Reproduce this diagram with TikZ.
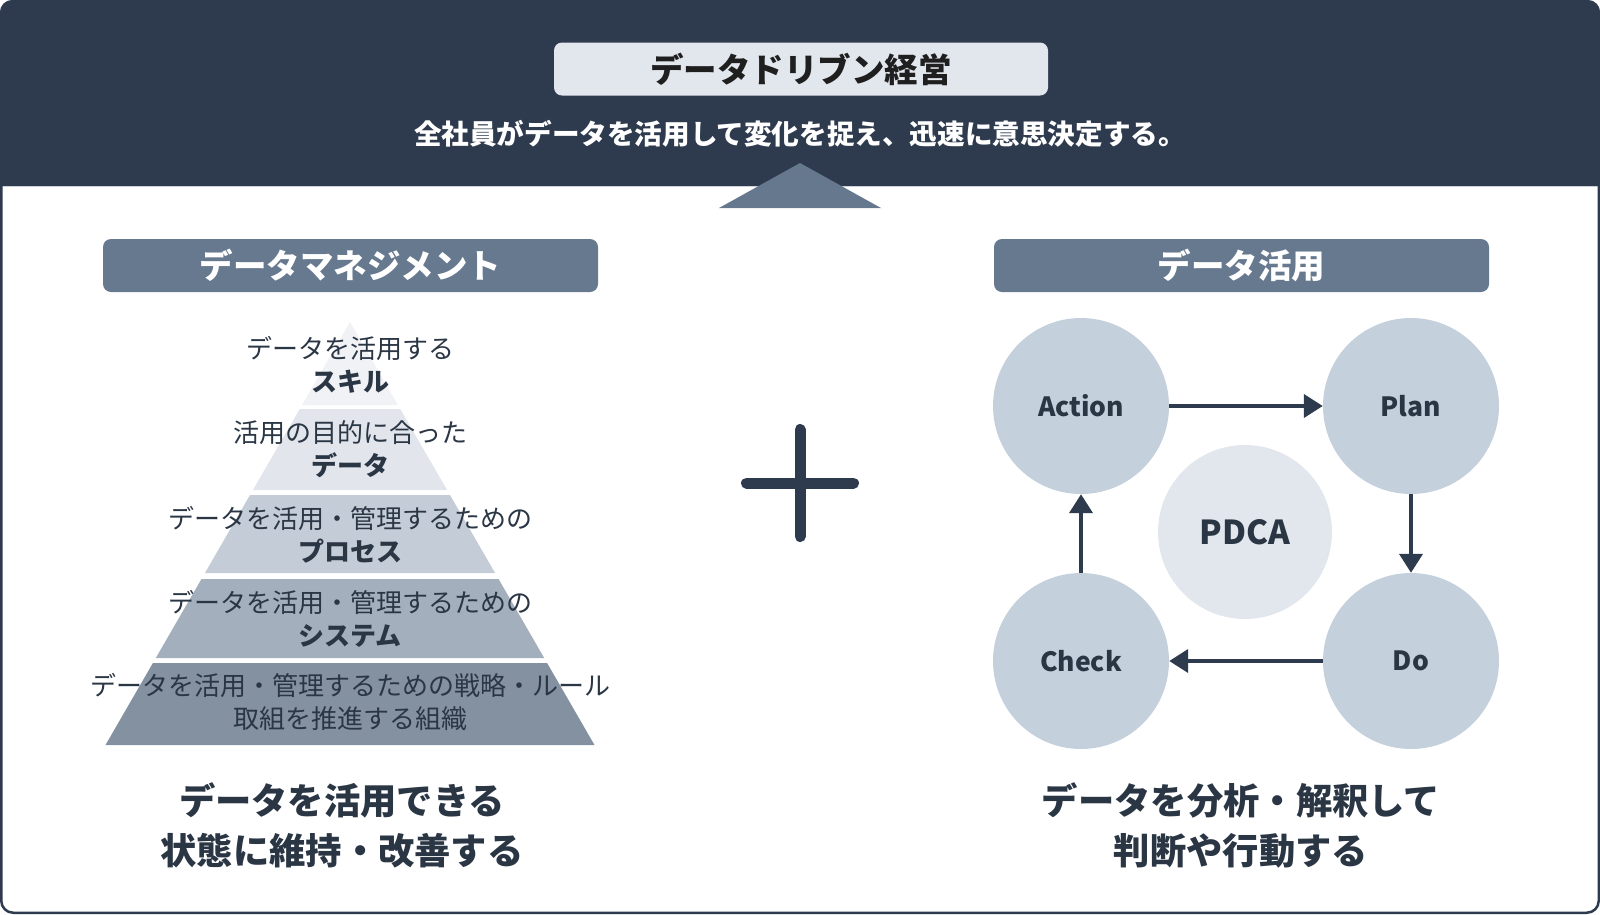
\documentclass[tikz,border=0pt]{standalone}
\usepackage{fontspec}
\setmainfont{Noto Sans CJK JP}
\usepackage{tikz}
\usetikzlibrary{arrows.meta}

\definecolor{navy}{HTML}{2E3B4E}
\definecolor{ink}{HTML}{2B3645}
\definecolor{paleblue}{HTML}{E2E7EE}
\definecolor{slate}{HTML}{66798F}
\definecolor{bubble}{HTML}{C4D0DC}
\definecolor{pyrA}{HTML}{F0F2F5}
\definecolor{pyrB}{HTML}{E2E6EC}
\definecolor{pyrC}{HTML}{C4CDD7}
\definecolor{pyrD}{HTML}{A3AFBC}
\definecolor{pyrE}{HTML}{8391A1}

\begin{document}
\begin{tikzpicture}[x=1pt, y=-1pt,
    headbar/.style={fill=slate, rounded corners=8pt, minimum width=495pt, minimum height=53pt,
        text=white, font=\fontsize{33.5}{38}\selectfont\bfseries},
    layer/.style={align=center, text=ink, font=\fontsize{26}{33}\selectfont},
    summary/.style={align=center, text=ink, font=\fontsize{36.3}{50}\selectfont\bfseries},
    phase/.style={circle, fill=bubble, minimum size=176pt, inner sep=0pt, text=ink,
        font=\fontsize{26.5}{32}\selectfont\bfseries},
    cycle arrow/.style={draw=navy, line width=4pt, -{Triangle[length=19pt, width=23pt]}}]
    \useasboundingbox (0,0) rectangle (1600,914);

    % top band
    \fill[navy, rounded corners=12pt] (0,0) rectangle (1600,186);
    \fill[navy] (0,100) rectangle (1600,186);
    \draw[paleblue!80!gray, line width=1pt] (0,186.5) -- (1600,186.5);
    \node[fill=paleblue, rounded corners=8pt, minimum width=494pt, minimum height=53pt,
        text=black!88, font=\fontsize{33.5}{38}\selectfont\bfseries] (title) at (801, 69) {データドリブン経営};
    \node[text=white, font=\fontsize{27.6}{32}\selectfont\bfseries] (motto) at (800, 134)
        {全社員がデータを活用して変化を捉え、迅速に意思決定する。};
    \fill[slate!98!navy] (800,163) -- (719,208) -- (881,208) -- cycle;

    % left half
    \node[headbar] (mgmt) at (350.5, 265.5) {データマネジメント};

    \foreach \ytop/\ybot/\col in {322/405/pyrA, 409/490/pyrB, 495/573/pyrC, 579/658/pyrD, 663/745/pyrE}
        \fill[\col] ({350-0.578*(\ytop-322)},\ytop) -- ({350+0.578*(\ytop-322)},\ytop)
            -- ({350+0.578*(\ybot-322)},\ybot) -- ({350-0.578*(\ybot-322)},\ybot) -- cycle;

    \node[layer] (skill) at (350, 364.5) {データを活用する\\\textbf{スキル}};
    \node[layer] (data) at (350, 449) {活用の目的に合った\\\textbf{データ}};
    \node[layer] (process) at (350, 534.5) {データを活用・管理するための\\\textbf{プロセス}};
    \node[layer] (system) at (350, 619) {データを活用・管理するための\\\textbf{システム}};
    \node[layer] (org) at (350, 702.5) {データを活用・管理するための戦略・ルール\\取組を推進する組織};

    \node[summary] (keepup) at (342, 825) {データを活用できる\\状態に維持・改善する};

    % plus sign
    \coordinate (plus) at (800, 483);
    \draw[navy, line width=11pt, line cap=round] ([xshift=-53.5pt]plus) -- ([xshift=53.5pt]plus);
    \draw[navy, line width=11pt, line cap=round] ([yshift=-53.5pt]plus) -- ([yshift=53.5pt]plus);

    % right half
    \node[headbar] (usage) at (1241.5, 265.5) {データ活用};

    \node[phase] (action) at (1081, 406) {Action};
    \node[phase] (plan) at (1411, 406) {Plan};
    \node[phase] (do) at (1411, 661) {Do};
    \node[phase] (check) at (1081, 661) {Check};
    \node[phase, fill=paleblue, minimum size=174pt, font=\fontsize{33}{38}\selectfont\bfseries] (pdca) at (1245, 532) {PDCA};

    \draw[cycle arrow] (action.east) -- (plan.west);
    \draw[cycle arrow] (plan.south) -- (do.north);
    \draw[cycle arrow] (do.west) -- (check.east);
    \draw[cycle arrow] (check.north) -- (action.south);

    \node[summary] (decide) at (1241, 825) {データを分析・解釈して\\判断や行動する};

    % outer frame
    \draw[navy, line width=2.5pt, rounded corners=12pt] (1.25,1.25) rectangle (1598.75,912.75);
\end{tikzpicture}
\end{document}
